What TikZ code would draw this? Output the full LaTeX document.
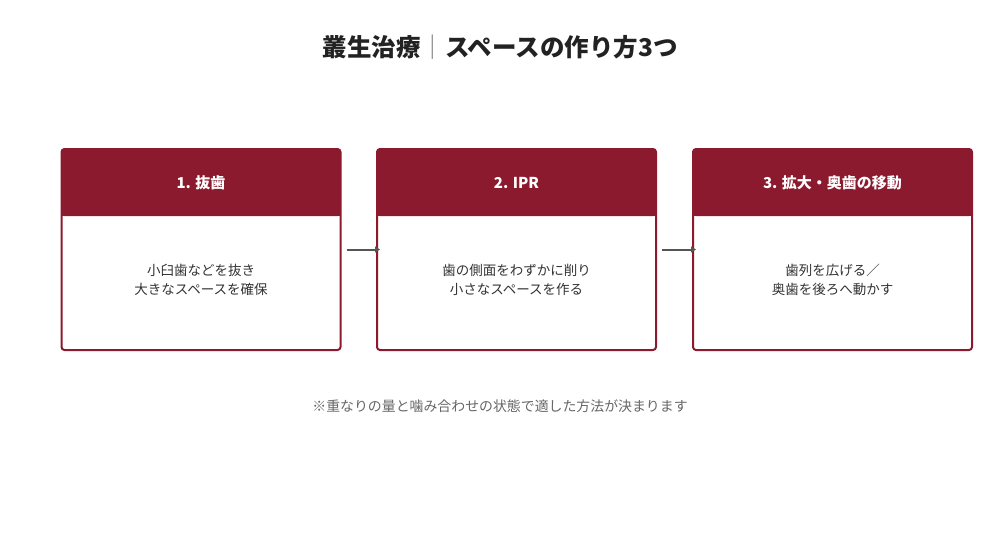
\documentclass[tikz,border=0pt]{standalone}
\usepackage{fontspec}
\setmainfont{Noto Sans CJK JP}
\usetikzlibrary{arrows.meta}
\definecolor{wine}{HTML}{8B1A2E}
\definecolor{arrowgrey}{HTML}{555555}
\definecolor{bodytext}{HTML}{333333}
\definecolor{notetext}{HTML}{666666}
\definecolor{titletext}{HTML}{222222}
\definecolor{sepgrey}{HTML}{777777}
\tikzset{
  cardbase/.style={rounded corners=3pt, minimum width=279pt, minimum height=201pt, inner sep=0pt},
  cardfill/.style={cardbase, fill=white},
  cardline/.style={cardbase, draw=wine, line width=2pt},
  headtext/.style={text=white, font=\bfseries\fontsize{15}{18}\selectfont},
  bodytxt/.style={text=bodytext, align=center, font=\fontsize{13.5}{19}\selectfont},
  flow/.style={draw=arrowgrey, line width=2pt, -{Triangle[length=5pt,width=6pt]}, shorten <=5pt, shorten >=-4pt}
}
\begin{document}
\begin{tikzpicture}[x=1pt,y=-1pt]
\useasboundingbox (0,0) rectangle (1000,547);
\node[text=titletext, font=\bfseries\fontsize{24.5}{28}\selectfont] (title) at (500,47) {叢生治療{\mdseries\color{sepgrey}｜}スペースの作り方3つ};
\foreach \i/\cx/\hd/\bd in {1/201/{1. 抜歯}/{小臼歯などを抜き\\大きなスペースを確保},
                             2/516.5/{2. IPR}/{歯の側面をわずかに削り\\小さなスペースを作る},
                             3/832.5/{3. 拡大・奥歯の移動}/{歯列を広げる／\\奥歯を後ろへ動かす}}{
  \node[cardfill] (c\i) at (\cx,249.5) {};
  \fill[wine, rounded corners=3pt] (c\i.north west) rectangle (c\i.north east |- 0,216);
  \fill[wine] (c\i.north west |- 0,206) rectangle (c\i.north east |- 0,216);
  \node[cardline] (b\i) at (\cx,249.5) {};
  \node[headtext] (h\i) at (\cx,183) {\hd};
  \node[bodytxt] (t\i) at (\cx,280) {\bd};
}
\draw[flow] (b1.east) -- (b2.west);
\draw[flow] (b2.east) -- (b3.west);
\node[text=notetext, font=\fontsize{13.9}{16}\selectfont] (note) at (500,406) {※重なりの量と噛み合わせの状態で適した方法が決まります};
\end{tikzpicture}
\end{document}
